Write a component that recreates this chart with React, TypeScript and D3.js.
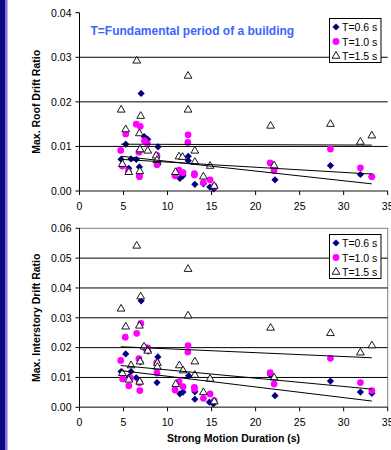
import * as d3 from "d3";

// durations (s) and drift ratios
const roof06: [number, number][] = [
  [4.72, 0.0071], [4.9, 0.0057], [5.25, 0.0105], [5.6, 0.0051], [5.85, 0.0072], [6.45, 0.0071],
  [6.8, 0.0054], [6.9, 0.009], [7.0, 0.0219], [7.35, 0.0122], [7.75, 0.0116], [8.92, 0.0099],
  [8.92, 0.006], [11.4, 0.0028], [11.75, 0.0034], [12.35, 0.0078], [12.35, 0.0068], [13.1, 0.0015],
  [14.07, 0.0016], [14.8, 0.0009], [15.25, 0.0005], [22.2, 0.0025], [28.5, 0.0057], [31.9, 0.0037],
  [33.2, 0.0032],
];
const roof10: [number, number][] = [
  [4.68, 0.0091], [4.85, 0.0056], [5.25, 0.0128], [5.55, 0.0044], [6.45, 0.015], [6.9, 0.0145],
  [6.75, 0.0087], [6.8, 0.0036], [6.82, 0.0032], [7.38, 0.0113], [7.7, 0.0107], [8.8, 0.008],
  [8.8, 0.0059], [10.85, 0.0034], [11.3, 0.0047], [11.76, 0.0041], [12.33, 0.0126], [12.3, 0.0109],
  [13.05, 0.0039], [13.05, 0.0036], [14.07, 0.0019], [14.83, 0.0025], [15.3, 0.0011], [21.65, 0.0063],
  [22.1, 0.0046], [28.5, 0.0094], [31.9, 0.0052], [33.2, 0.0032],
];
const roof15: [number, number][] = [
  [4.73, 0.0182], [5.25, 0.0138], [6.5, 0.0292], [6.95, 0.0168], [6.8, 0.0129], [6.88, 0.0093],
  [7.75, 0.009], [8.7, 0.0079], [8.8, 0.0069], [4.87, 0.006], [5.6, 0.0042], [6.85, 0.0044],
  [10.9, 0.0042], [11.3, 0.0077], [11.7, 0.0076], [12.33, 0.0258], [12.33, 0.0182], [13.1, 0.009],
  [13.1, 0.0065], [14.07, 0.0032], [14.83, 0.0056], [15.3, 0.0011], [21.7, 0.0146], [22.1, 0.0057],
  [28.5, 0.015], [31.9, 0.011], [33.2, 0.0124],
];
const inter06: [number, number][] = [
  [4.72, 0.012], [5.25, 0.0179], [5.85, 0.012], [5.66, 0.0103], [6.45, 0.0099], [6.8, 0.0087],
  [7.0, 0.0357], [6.9, 0.0152], [7.4, 0.0197], [7.8, 0.0188], [8.9, 0.0169], [8.8, 0.0083],
  [11.4, 0.0045], [11.75, 0.0051], [12.4, 0.0106], [13.1, 0.0052], [13.1, 0.0027], [14.75, 0.0017],
  [15.2, 0.0011], [21.7, 0.0108], [22.2, 0.0039], [28.5, 0.0088], [31.9, 0.0051], [33.2, 0.0047],
];
const inter10: [number, number][] = [
  [4.68, 0.0157], [4.9, 0.0095], [5.2, 0.0235], [5.6, 0.0072], [5.8, 0.0098], [6.5, 0.0248],
  [6.97, 0.0281], [6.75, 0.0163], [6.8, 0.0082], [6.85, 0.0056], [7.4, 0.0201], [7.75, 0.0199],
  [8.77, 0.015], [8.8, 0.0115], [10.85, 0.0058], [11.3, 0.0086], [11.76, 0.0069], [12.33, 0.0207],
  [12.3, 0.0185], [13.05, 0.0067], [13.05, 0.0061], [14.07, 0.003], [14.83, 0.0045], [15.3, 0.0022],
  [21.65, 0.0116], [22.1, 0.0078], [28.5, 0.0164], [31.9, 0.0083], [33.2, 0.0056],
];
const inter15: [number, number][] = [
  [4.72, 0.033], [5.25, 0.027], [6.5, 0.0541], [6.95, 0.0371], [6.8, 0.0273], [6.88, 0.0153],
  [7.33, 0.0203], [7.75, 0.0189], [8.84, 0.0148], [8.84, 0.0135], [4.87, 0.0114], [5.85, 0.014],
  [5.6, 0.0092], [6.84, 0.0085], [10.93, 0.0077], [11.34, 0.014], [11.76, 0.0123], [12.33, 0.0463],
  [12.33, 0.0307], [13.1, 0.0153], [13.1, 0.0108], [14.07, 0.005], [14.83, 0.0095], [15.3, 0.0019],
  [21.7, 0.0266], [22.1, 0.0099], [28.5, 0.0248], [31.9, 0.0183], [33.2, 0.0207],
];

// trend line end points: [x0, y0, x1, y1]
const roofTrends: [number, number, number, number][] = [
  [4.7, 0.0105, 33.2, 0.0103],
  [4.7, 0.0078, 33.2, 0.0016],
  [4.7, 0.0071, 33.2, 0.0038],
];
const interTrends: [number, number, number, number][] = [
  [4.7, 0.0203, 33.2, 0.0166],
  [4.7, 0.014, 33.2, 0.0061],
  [4.7, 0.0123, 33.2, 0.0021],
];

const seriesNames = ["T=0.6 s", "T=1.0 s", "T=1.5 s"];
const xTicks = [0, 5, 10, 15, 20, 25, 30, 35];
const roofTicks = [0, 0.01, 0.02, 0.03, 0.04];
const interTicks = [0, 0.01, 0.02, 0.03, 0.04, 0.05, 0.06];

const FONT = "Arial, 'Liberation Sans', sans-serif";
const NAVY = "#000080";
const MAGENTA = "#ff00ff";

const x = d3.scaleLinear().domain([0, 35]).range([79.5, 387.7]);
const fmt = d3.format(".2f");

const diamond = d3.symbol(d3.symbolSquare, 26)();
const circle = d3.symbol(d3.symbolCircle, 36)();
const triangle = d3.symbol(d3.symbolTriangle, 26)();

function Marker({ kind, cx, cy }: { kind: number; cx: number; cy: number }) {
  if (kind === 0)
    return <path d={diamond!} transform={`translate(${cx},${cy}) rotate(45)`} fill={NAVY} />;
  if (kind === 1) return <path d={circle!} transform={`translate(${cx},${cy})`} fill={MAGENTA} />;
  return (
    <path d={triangle!} transform={`translate(${cx},${cy})`} fill="white" stroke="#000" strokeWidth={0.9} />
  );
}

function Panel({
  top, bottom, ticks, series, trends, label, legendY, border,
}: {
  top: number; bottom: number; ticks: number[]; series: [number, number][][];
  trends: [number, number, number, number][]; label: string; legendY: number; border: boolean;
}) {
  const y = d3.scaleLinear().domain([0, ticks[ticks.length - 1]]).range([bottom, top]);
  const [x0, x1] = x.range();
  return (
    <g>
      {border && <rect x={x0} y={top} width={x1 - x0} height={bottom - top} fill="none" stroke="#808080" />}
      {ticks.slice(1, ticks.length - 1).map((t) => (
        <line key={t} x1={x0} x2={x1} y1={y(t)} y2={y(t)} stroke="#000" strokeWidth={1} />
      ))}
      {/* y axis */}
      <line x1={x0} x2={x0} y1={top} y2={bottom} stroke="#000" />
      {ticks.map((t) => (
        <g key={t}>
          <line x1={x0 - 4} x2={x0} y1={y(t)} y2={y(t)} stroke="#000" />
          <text x={x0 - 8} y={y(t) + 3.8} textAnchor="end" fontSize={10.5} fontFamily={FONT}>
            {fmt(t)}
          </text>
        </g>
      ))}
      {/* x axis */}
      <line x1={x0} x2={x1} y1={bottom} y2={bottom} stroke="#606060" strokeWidth={1.5} />
      {xTicks.map((t) => (
        <g key={t}>
          <line x1={x(t)} x2={x(t)} y1={bottom} y2={bottom + 4} stroke="#000" />
          <text x={x(t)} y={bottom + 18.5} textAnchor="middle" fontSize={10.5} fontFamily={FONT}>
            {t}
          </text>
        </g>
      ))}
      <text
        transform={`translate(40,${(top + bottom) / 2}) rotate(-90)`}
        textAnchor="middle" fontSize={10.5} fontWeight="bold" fontFamily={FONT}
      >
        {label}
      </text>
      {series.map((pts, k) => (
        <g key={k}>
          {pts.map(([dx, dy], i) => (
            <Marker key={i} kind={k} cx={x(dx)} cy={y(dy)} />
          ))}
        </g>
      ))}
      {trends.map(([a, b, c, d], i) => (
        <line key={i} x1={x(a)} y1={y(b)} x2={x(c)} y2={y(d)} stroke="#000" strokeWidth={1} />
      ))}
      {/* legend */}
      <g transform={`translate(329.5,${legendY})`}>
        <rect width={51.5} height={44} fill="white" stroke="#000" />
        {seriesNames.map((n, i) => (
          <g key={n}>
            <Marker kind={i} cx={6.5} cy={8.5 + i * 14.5} />
            <text x={12.5} y={12.5 + i * 14.5} fontSize={10.5} fontFamily={FONT}>
              {n}
            </text>
          </g>
        ))}
      </g>
    </g>
  );
}

export default function App() {
  return (
    <svg
      width={391}
      height={450}
      style={{ position: "absolute", left: 0, top: 0, background: "white" }}
    >
      <rect x={0} y={0} width={5} height={450} fill="#0a0a80" />
      <rect x={5} y={0} width={2.5} height={450} fill="#8a6ae2" />
      <Panel
        top={12.7} bottom={191} ticks={roofTicks} series={[roof06, roof10, roof15]}
        trends={roofTrends} label="Max. Roof Drift Ratio" legendY={18.5} border={false}
      />
      <text x={90.5} y={35} fontSize={12} fontWeight="bold" fill="#3a66ff" fontFamily={FONT}>
        T=Fundamental period of a building
      </text>
      <Panel
        top={228.3} bottom={407.3} ticks={interTicks} series={[inter06, inter10, inter15]}
        trends={interTrends} label="Max. Interstory Drift Ratio" legendY={234.5} border={true}
      />
      <text x={233.6} y={442} textAnchor="middle" fontSize={10.5} fontWeight="bold" fontFamily={FONT}>
        Strong Motion Duration (s)
      </text>
    </svg>
  );
}
